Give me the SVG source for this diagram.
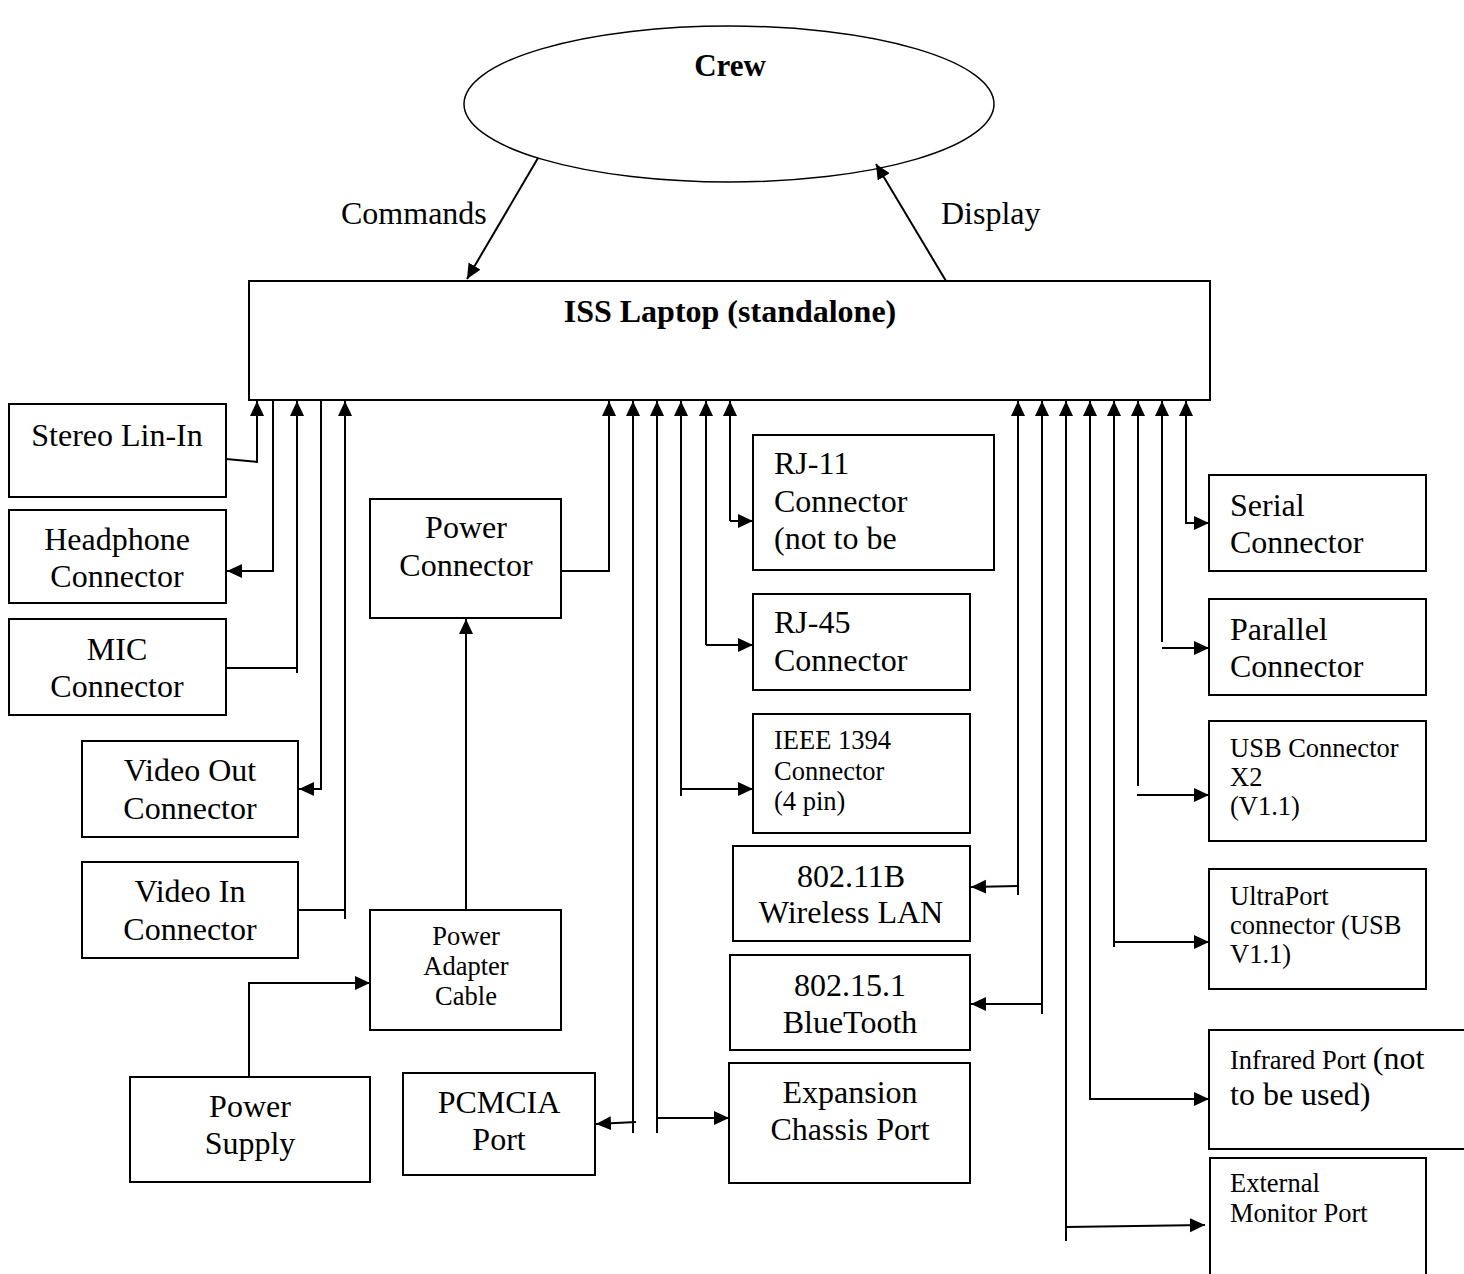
<svg xmlns="http://www.w3.org/2000/svg" width="1464" height="1274" viewBox="0 0 1464 1274">
<defs>
<marker id="ah" markerUnits="userSpaceOnUse" markerWidth="16" markerHeight="15" refX="15" refY="7" orient="auto">
<path d="M0,0 L15,7 L0,14 z" fill="#000"/>
</marker>
<style>
.box{fill:#fff;stroke:#000;stroke-width:2}
.t{font-family:"Liberation Serif","Times New Roman",serif;font-size:32px;fill:#000}
.s{font-family:"Liberation Serif","Times New Roman",serif;font-size:26.5px;fill:#000}
.b{font-family:"Liberation Serif","Times New Roman",serif;font-size:32px;font-weight:bold;fill:#000}
.c{text-anchor:middle}
.ln{fill:none;stroke:#000;stroke-width:2}
.ar{fill:none;stroke:#000;stroke-width:2;marker-end:url(#ah)}
</style>
</defs>
<rect width="1464" height="1274" fill="#fff"/>

<g id="crew">
<ellipse cx="729" cy="104" rx="265" ry="78" fill="#fff" stroke="#000" stroke-width="1.5"/>
<text class="b c" x="730" y="76" style="font-size:31px">Crew</text>
</g>
<g id="laptop">
<rect class="box" x="249" y="281" width="961" height="119"/>
<text class="b c" x="730" y="322">ISS Laptop (standalone)</text>
</g>

<g id="stereo"><rect class="box" x="9" y="404" width="217" height="93"/><text class="t c" x="117" y="446">Stereo Lin-In</text></g>
<g id="headphone"><rect class="box" x="9" y="510" width="217" height="93"/><text class="t c" x="117" y="550">Headphone</text><text class="t c" x="117" y="587">Connector</text></g>
<g id="mic"><rect class="box" x="9" y="619" width="217" height="96"/><text class="t c" x="117" y="660">MIC</text><text class="t c" x="117" y="697">Connector</text></g>
<g id="videoout"><rect class="box" x="82" y="741" width="216" height="96"/><text class="t c" x="190" y="781">Video Out</text><text class="t c" x="190" y="819">Connector</text></g>
<g id="videoin"><rect class="box" x="82" y="862" width="216" height="96"/><text class="t c" x="190" y="902">Video In</text><text class="t c" x="190" y="940">Connector</text></g>

<g id="powerconn"><rect class="box" x="370" y="499" width="191" height="119"/><text class="t c" x="466" y="538">Power</text><text class="t c" x="466" y="576">Connector</text></g>
<g id="adapter"><rect class="box" x="370" y="910" width="191" height="120"/><text class="s c" x="466" y="945">Power</text><text class="s c" x="466" y="975">Adapter</text><text class="s c" x="466" y="1005">Cable</text></g>
<g id="supply"><rect class="box" x="130" y="1077" width="240" height="105"/><text class="t c" x="250" y="1117">Power</text><text class="t c" x="250" y="1154">Supply</text></g>
<g id="pcmcia"><rect class="box" x="403" y="1073" width="192" height="102"/><text class="t c" x="499" y="1113">PCMCIA</text><text class="t c" x="499" y="1150">Port</text></g>

<g id="rj11"><rect class="box" x="753" y="435" width="241" height="135"/><text class="t" x="774" y="474">RJ-11</text><text class="t" x="774" y="512">Connector</text><text class="t" x="774" y="549">(not to be</text></g>
<g id="rj45"><rect class="box" x="753" y="594" width="217" height="96"/><text class="t" x="774" y="633">RJ-45</text><text class="t" x="774" y="671">Connector</text></g>
<g id="ieee"><rect class="box" x="753" y="714" width="217" height="119"/><text class="s" x="774" y="749">IEEE 1394</text><text class="s" x="774" y="780">Connector</text><text class="s" x="774" y="810">(4 pin)</text></g>
<g id="wlan"><rect class="box" x="733" y="846" width="237" height="95"/><text class="t c" x="851" y="887">802.11B</text><text class="t c" x="851" y="923">Wireless LAN</text></g>
<g id="bt"><rect class="box" x="730" y="955" width="240" height="95"/><text class="t c" x="850" y="996">802.15.1</text><text class="t c" x="850" y="1033">BlueTooth</text></g>
<g id="expansion"><rect class="box" x="729" y="1063" width="241" height="120"/><text class="t c" x="850" y="1103">Expansion</text><text class="t c" x="850" y="1140">Chassis Port</text></g>

<g id="serial"><rect class="box" x="1209" y="475" width="217" height="96"/><text class="t" x="1230" y="516">Serial</text><text class="t" x="1230" y="553">Connector</text></g>
<g id="parallel"><rect class="box" x="1209" y="599" width="217" height="96"/><text class="t" x="1230" y="640">Parallel</text><text class="t" x="1230" y="677">Connector</text></g>
<g id="usb"><rect class="box" x="1209" y="721" width="217" height="120"/><text class="s" x="1230" y="757">USB Connector</text><text class="s" x="1230" y="786">X2</text><text class="s" x="1230" y="815">(V1.1)</text></g>
<g id="ultraport"><rect class="box" x="1209" y="869" width="217" height="120"/><text class="s" x="1230" y="905">UltraPort</text><text class="s" x="1230" y="934">connector (USB</text><text class="s" x="1230" y="963">V1.1)</text></g>
<g id="infrared"><path class="ln" d="M1470,1030 H1209 V1149 H1470" fill="#fff"/><text class="s" x="1230" y="1069">Infrared Port <tspan style="font-size:32px">(not</tspan></text><text class="t" x="1230" y="1105">to be used)</text></g>
<g id="extmon"><path class="ln" d="M1210,1280 V1158 H1426 V1280"/><text class="s" x="1230" y="1192">External</text><text class="s" x="1230" y="1222">Monitor Port</text></g>

<g id="connectors">
<line class="ar" x1="538" y1="158" x2="467" y2="279"/>
<line class="ar" x1="946" y1="281" x2="876" y2="164"/>
<text class="t" x="341" y="224">Commands</text>
<text class="t" x="941" y="224">Display</text>

<line class="ln" x1="226" y1="459" x2="258" y2="462"/>
<line class="ar" x1="257" y1="463" x2="257" y2="401"/>
<polyline class="ar" points="273,400 273,571 227,571"/>
<line class="ln" x1="226" y1="668" x2="297" y2="668"/>
<line class="ar" x1="297" y1="673" x2="297" y2="401"/>
<polyline class="ar" points="321,400 321,789 299,789"/>
<line class="ln" x1="298" y1="910" x2="345" y2="910"/>
<line class="ar" x1="345" y1="919" x2="345" y2="401"/>

<polyline class="ar" points="561,571 609,571 609,401"/>
<line class="ar" x1="466" y1="910" x2="466" y2="619"/>
<polyline class="ar" points="249,1077 249,983 370,983"/>

<line class="ar" x1="633" y1="1133" x2="633" y2="401"/>
<line class="ar" x1="636" y1="1122" x2="596" y2="1124"/>
<line class="ar" x1="657" y1="1133" x2="657" y2="401"/>
<line class="ar" x1="657" y1="1118" x2="729" y2="1118"/>
<line class="ar" x1="681" y1="796" x2="681" y2="401"/>
<line class="ar" x1="681" y1="789" x2="753" y2="789"/>
<line class="ar" x1="706" y1="645" x2="706" y2="401"/>
<line class="ar" x1="706" y1="645" x2="753" y2="645"/>
<line class="ar" x1="730" y1="521" x2="730" y2="401"/>
<line class="ar" x1="730" y1="521" x2="753" y2="521"/>

<line class="ar" x1="1018" y1="895" x2="1018" y2="401"/>
<line class="ar" x1="1018" y1="886" x2="971" y2="887"/>
<line class="ar" x1="1042" y1="1014" x2="1042" y2="401"/>
<line class="ar" x1="1042" y1="1004" x2="971" y2="1004"/>
<line class="ar" x1="1066" y1="1241" x2="1066" y2="401"/>
<line class="ar" x1="1066" y1="1227" x2="1205" y2="1225"/>
<line class="ar" x1="1090" y1="1100" x2="1090" y2="401"/>
<line class="ar" x1="1090" y1="1099" x2="1209" y2="1099"/>
<line class="ar" x1="1114" y1="947" x2="1114" y2="401"/>
<line class="ar" x1="1114" y1="942" x2="1209" y2="942"/>
<line class="ar" x1="1138" y1="786" x2="1138" y2="401"/>
<line class="ar" x1="1137" y1="795" x2="1209" y2="795"/>
<line class="ar" x1="1162" y1="642" x2="1162" y2="401"/>
<line class="ar" x1="1162" y1="648" x2="1209" y2="648"/>
<line class="ar" x1="1186" y1="524" x2="1186" y2="401"/>
<line class="ar" x1="1186" y1="523" x2="1209" y2="523"/>
</g>
</svg>
